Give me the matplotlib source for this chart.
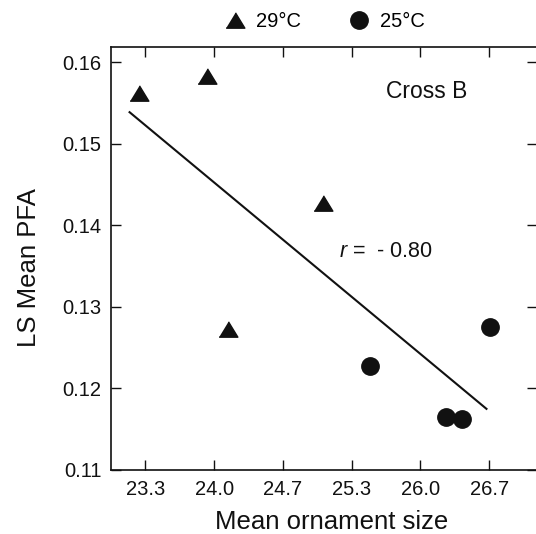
import matplotlib
matplotlib.use("Agg")
import matplotlib.pyplot as plt
from matplotlib.lines import Line2D

plt.rcParams['font.family'] = ['Liberation Sans', 'DejaVu Sans']
plt.rcParams['mathtext.fontset'] = 'custom'
plt.rcParams['mathtext.it'] = 'Liberation Sans:italic'
plt.rcParams['mathtext.rm'] = 'Liberation Sans'

# 29 C (triangles)
warm_x = [23.27, 23.93, 24.13, 25.06]
warm_y = [0.1563, 0.1584, 0.1273, 0.1428]
# 25 C (circles)
cool_x = [25.51, 26.25, 26.40, 26.67]
cool_y = [0.1227, 0.1165, 0.1162, 0.1275]
# regression line end points
fit_x = [23.18, 26.64]
fit_y = [0.1539, 0.1175]

x_ticks = [23 + 1/3, 24.0, 24 + 2/3, 25 + 1/3, 26.0, 26 + 2/3]
x_labels = ['23.3', '24.0', '24.7', '25.3', '26.0', '26.7']
y_ticks = [0.11, 0.12, 0.13, 0.14, 0.15, 0.16]
y_labels = ['0.11', '0.12', '0.13', '0.14', '0.15', '0.16']

ink = '#111111'
# flatter triangle, like the original
tri = [(-1, -0.82), (1, -0.82), (0, 0.82)]

fig = plt.figure(figsize=(5.36, 5.34), dpi=100)
ax = fig.add_axes([0.2071, 0.1199, 0.7948, 0.7921])

ax.plot(fit_x, fit_y, color=ink, lw=1.5)
ax.plot(warm_x, warm_y, ls='none', marker=tri, ms=13.5, color=ink)
ax.plot(cool_x, cool_y, ls='none', marker='o', ms=12.5, color=ink)

ax.set_xlim(23.0, 27.13)
ax.set_ylim(0.11, 0.1619)
ax.set_xticks(x_ticks)
ax.set_xticklabels(x_labels)
ax.set_yticks(y_ticks)
ax.set_yticklabels(y_labels)
ax.tick_params(direction='in', length=7, width=1, labelsize=14.5, pad=7,
               top=True, right=True, colors=ink)
for s in ax.spines.values():
    s.set_linewidth(1.2)
    s.set_color(ink)

ax.set_xlabel('Mean ornament size', fontsize=18.5, labelpad=8, color=ink)
ax.set_ylabel('LS Mean PFA', fontsize=18.5, labelpad=15, color=ink)
ax.xaxis.label.set_x(0.518)
ax.yaxis.label.set_y(0.4775)

ax.text(25.67, 0.15647, 'Cross B', fontsize=16.5, ha='left', va='center', color=ink)
ax.text(25.21, 0.13682, '$r$ =  - 0.80', fontsize=15.5, ha='left', va='center', color=ink)

handles = [Line2D([], [], ls='none', marker=tri, ms=13.5, color=ink),
           Line2D([], [], ls='none', marker='o', ms=12.5, color=ink)]
fig.legend(handles, ['29°C', '25°C'], loc='center', bbox_to_anchor=(0.606, 0.959),
           ncol=2, frameon=False, fontsize=14.5, handlelength=1.0,
           handletextpad=0.55, columnspacing=2.4)

fig.savefig('out.png', dpi=100)
